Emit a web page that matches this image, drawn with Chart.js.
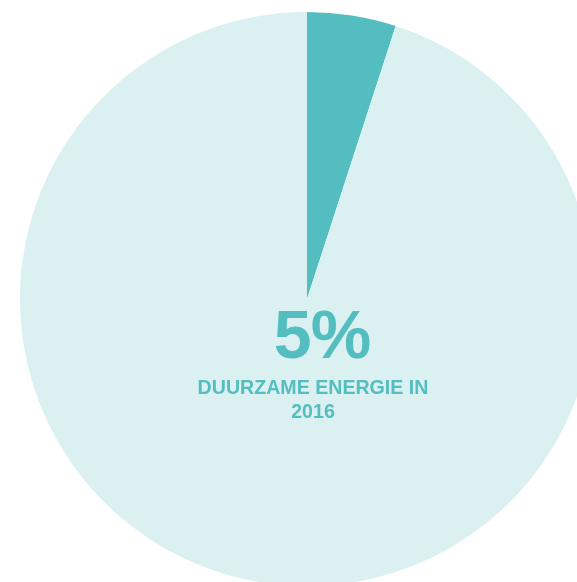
<!DOCTYPE html>
<html>
<head>
<meta charset="utf-8">
<script src="https://cdn.jsdelivr.net/npm/chart.js@4"></script>
<style>
    html, body { margin: 0; padding: 0; background: #ffffff; overflow: hidden; width: 577px; height: 582px; }
    #wrap { position: absolute; left: 20px; top: 12px; width: 574px; height: 574px; }
</style>
</head>
<body>
<div id="wrap"><canvas id="chart" width="574" height="574"></canvas></div>
<script>
// Share of renewable energy in 2016
const categories = ['Duurzame energie', 'Overig'];
const shareValues = [5, 95];
const sliceColors = ['#54bdc0', '#dbf0f0'];
const headline = '5%';
const captionLines = ['DUURZAME ENERGIE IN', '2016'];

const textColor = '#54bdc0';

// Draws the big percentage and caption inside the pie
const centerText = {
    id: 'centerText',
    afterDraw(chart) {
        const ctx = chart.ctx;
        const cx = chart.width / 2 + 6;
        ctx.save();
        ctx.fillStyle = textColor;
        ctx.textAlign = 'center';
        ctx.textBaseline = 'alphabetic';
        ctx.font = "bold 68px 'Liberation Sans', Arial, sans-serif";
        ctx.letterSpacing = '-1px';
        ctx.fillText(headline, cx + 9, 346);
        ctx.letterSpacing = '0px';
        ctx.font = "bold 19.6px 'Liberation Sans', Arial, sans-serif";
        captionLines.forEach((line, i) => {
            ctx.fillText(line, cx, 382 + i * 24);
        });
        ctx.restore();
    }
};

new Chart(document.getElementById('chart'), {
    type: 'pie',
    data: {
        labels: categories,
        datasets: [{
            data: shareValues,
            backgroundColor: sliceColors,
            borderWidth: 0
        }]
    },
    options: {
        responsive: false,
        animation: false,
        layout: { padding: 0 },
        plugins: {
            legend: { display: false },
            tooltip: { enabled: false }
        }
    },
    plugins: [centerText]
});
</script>
</body>
</html>
